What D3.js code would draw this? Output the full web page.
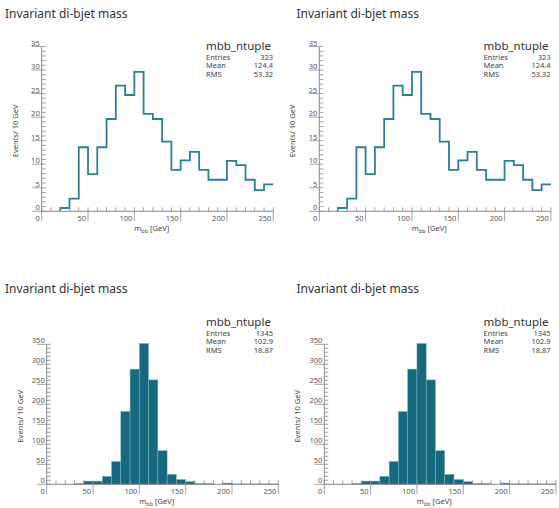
<!DOCTYPE html>
<html>
<head>
<meta charset="utf-8">
<script src="https://cdn.jsdelivr.net/npm/d3@7"></script>
<style>
  body { margin: 0; background: #fff; }
  text { font-family: "Noto Sans", "Open Sans", sans-serif; }
</style>
</head>
<body>
<div id="chart"></div>
<script>
// histogram contents, 10 GeV bins
const title = "Invariant di-bjet mass";
const histName = "mbb_ntuple";
const statNames = ["Entries", "Mean", "RMS"];

const wideStart = 20;   // first bin low edge (GeV)
const wideCounts = [0.7, 2.7, 13.6, 7.9, 13.6, 19.6, 26.7, 24.7, 29.6, 20.7, 19.6, 14.8,
                    8.8, 10.8, 12.6, 8.8, 6.7, 6.7, 10.7, 9.8, 6.7, 4.5, 5.7];
const wideStats = ["323", "124.4", "53.32"];
const wideYTicks = [0, 5, 10, 15, 20, 25, 30, 35];

const peakStart = 30;
const peakCounts = [2, 8, 8, 20, 57, 182, 288, 352, 261, 84, 25, 12,
                    6.5, 2, 2, 0, 3, 1, 1, 1, 1, 1];
const peakStats = ["1345", "102.9", "18.87"];
const peakYTicks = [0, 50, 100, 150, 200, 250, 300, 350];

const xTicks = [0, 50, 100, 150, 200, 250];
const binWidth = 10;

const W = 559, H = 508;
const svg = d3.select("#chart").append("svg")
    .attr("width", W).attr("height", H);

const lineColor = "#2b7f99";
const fillColor = "#17697f";
const axisColor = "#8a8a8a";
const labelColor = "#555";

function drawPanel(p) {
    const g = svg.append("g");
    const x = d3.scaleLinear().domain([0, 250]).range([p.left, p.left + 231.6]);
    const y = d3.scaleLinear().domain([0, p.yMax]).range([p.bottom, p.top]);

    g.append("text")
        .attr("x", p.titleX).attr("y", p.titleY)
        .attr("font-size", 12).attr("fill", "#333")
        .text(title);

    // stats box
    g.append("text")
        .attr("x", p.statsX).attr("y", p.statsY)
        .attr("font-size", 11.5).attr("fill", "#333")
        .text(histName);
    statNames.forEach((s, i) => {
        const yy = p.statsY + 9.5 + i * 8.5;
        g.append("text").attr("x", p.statsX).attr("y", yy)
            .attr("font-size", 7.5).attr("fill", "#444").text(s);
        g.append("text").attr("x", p.statsX + 67).attr("y", yy)
            .attr("font-size", 7.5).attr("fill", "#444")
            .attr("text-anchor", "end").text(p.stats[i]);
    });

    // histogram
    const bins = p.counts.map((c, i) => ({ x0: p.start + i * binWidth, x1: p.start + (i + 1) * binWidth, c }));
    if (p.filled) {
        g.selectAll("rect.bar").data(bins.filter(d => d.c > 0)).join("rect")
            .attr("class", "bar")
            .attr("x", d => x(d.x0))
            .attr("y", d => y(d.c))
            .attr("width", d => x(d.x1) - x(d.x0))
            .attr("height", d => y(0) - y(d.c))
            .attr("fill", fillColor)
            .attr("stroke", "#7fb3c0")
            .attr("stroke-width", 0.5);
    } else {
        let path = `M${x(bins[0].x0)},${y(0)}`;
        bins.forEach(d => { path += `V${y(d.c)}H${x(d.x1)}`; });
        g.append("path").attr("d", path)
            .attr("fill", "none").attr("stroke", lineColor)
            .attr("stroke-width", 1.8);
    }

    // y axis
    g.append("line").attr("x1", p.left).attr("x2", p.left)
        .attr("y1", y(p.yMax)).attr("y2", y(0))
        .attr("stroke", axisColor);
    d3.range(0, p.yMax + 0.001, p.yMinor).forEach(v => {
        g.append("line").attr("x1", p.left).attr("x2", p.left + 4)
            .attr("y1", y(v)).attr("y2", y(v))
            .attr("stroke", axisColor).attr("stroke-width", 0.8);
    });
    p.yTicks.forEach(v => {
        g.append("line").attr("x1", p.left - 10).attr("x2", p.left)
            .attr("y1", y(v)).attr("y2", y(v))
            .attr("stroke", axisColor).attr("stroke-width", 0.8);
        g.append("text").attr("x", p.left - 2).attr("y", y(v) - 1)
            .attr("font-size", 7.5).attr("fill", labelColor)
            .attr("text-anchor", "end").text(v);
    });

    // x axis
    g.append("line").attr("x1", x(0)).attr("x2", x(250))
        .attr("y1", y(0)).attr("y2", y(0))
        .attr("stroke", axisColor);
    d3.range(0, 251, 10).forEach(v => {
        g.append("line").attr("x1", x(v)).attr("x2", x(v))
            .attr("y1", y(0)).attr("y2", y(0) - 4)
            .attr("stroke", axisColor).attr("stroke-width", 0.8);
    });
    xTicks.forEach(v => {
        g.append("line").attr("x1", x(v)).attr("x2", x(v))
            .attr("y1", y(0)).attr("y2", y(0) + 10)
            .attr("stroke", axisColor).attr("stroke-width", 0.8);
        g.append("text").attr("x", x(v) - 2).attr("y", y(0) + 9.5)
            .attr("font-size", 7.5).attr("fill", labelColor)
            .attr("text-anchor", "end").text(v);
    });

    // axis titles
    const xt = g.append("text")
        .attr("x", p.left + 110).attr("y", y(0) + 20)
        .attr("font-size", 7.5).attr("fill", "#444")
        .attr("text-anchor", "middle");
    xt.append("tspan").text("m");
    xt.append("tspan").attr("font-size", 5.5).attr("dy", 2).text("bb");
    xt.append("tspan").attr("dy", -2).text(" [GeV]");

    g.append("text")
        .attr("transform", `translate(${p.left - 24},${(y(0) + y(p.yMax)) / 2 + 2}) rotate(-90)`)
        .attr("font-size", 7.5).attr("fill", "#444")
        .attr("text-anchor", "middle")
        .text("Events/ 10 GeV");
}

const dx = 277.6;
[0, dx].forEach(off => {
    drawPanel({
        left: 41.7 + off, top: 46.5, bottom: 211.3, yMax: 35, yMinor: 1,
        yTicks: wideYTicks, counts: wideCounts, start: wideStart, filled: false,
        stats: wideStats, statsX: 206 + off, statsY: 50,
        titleX: 5 + off * 1.05, titleY: 18
    });
    drawPanel({
        left: 46.7 + off, top: 344.3, bottom: 484.3, yMax: 350, yMinor: 10,
        yTicks: peakYTicks, counts: peakCounts, start: peakStart, filled: true,
        stats: peakStats, statsX: 206 + off, statsY: 326,
        titleX: 5 + off * 1.05, titleY: 293
    });
});
</script>
</body>
</html>
